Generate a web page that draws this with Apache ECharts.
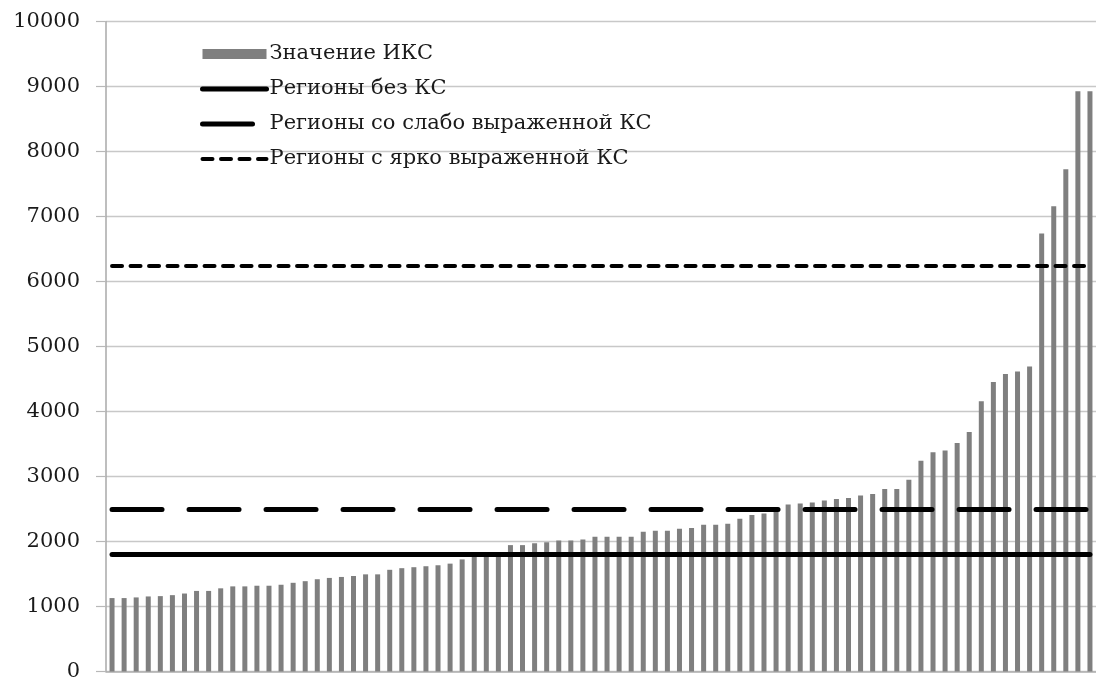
<!DOCTYPE html>
<html>
<head>
<meta charset="utf-8">
<script src="https://cdn.jsdelivr.net/npm/echarts@6/dist/echarts.min.js"></script>
<style>
  html, body { margin: 0; padding: 0; background: #fff; }
  #chart { width: 1096px; height: 682px; }
</style>
</head>
<body>
<div id="chart"></div>
<script>
// Sorted index values per region
const values = [
  1130, 1130, 1140, 1155, 1160, 1175, 1200, 1240, 1240, 1280,
  1310, 1310, 1320, 1320, 1335, 1365, 1390, 1420, 1440, 1455,
  1470, 1495, 1495, 1565, 1590, 1605, 1620, 1635, 1660, 1725,
  1765, 1780, 1790, 1945, 1945, 1975, 1990, 2015, 2015, 2030,
  2075, 2075, 2075, 2075, 2150, 2165, 2165, 2195, 2210, 2260,
  2260, 2275, 2350, 2410, 2430, 2520, 2570, 2585, 2600, 2630,
  2655, 2670, 2710, 2730, 2810, 2810, 2950, 3245, 3375, 3400,
  3515, 3685, 4160, 4455, 4580, 4615, 4695, 6740, 7160, 7730,
  8930, 8930
];
const categories = values.map((_, i) => String(i + 1));
const seriesNames = [
  'Значение ИКС',
  'Регионы без КС',
  'Регионы со слабо выраженной КС',
  'Регионы с ярко выраженной КС'
];
const thresholds = [1800, 2500, 6240];
const yTicks = { min: 0, max: 10000, interval: 1000 };

const FONT = 'DejaVu Serif';
const lineStyles = [
  { color: '#000', width: 5, type: 'solid', cap: 'round' },
  { color: '#000', width: 5, type: [50, 27], cap: 'round' },
  { color: '#000', width: 4, type: [10, 8.5], cap: 'round' }
];

function thresholdSeries(idx) {
  return {
    name: seriesNames[idx + 1],
    type: 'line',
    data: [],
    symbol: 'circle',
    symbolSize: 0,
    showSymbol: false,
    lineStyle: lineStyles[idx],
    itemStyle: { color: '#000' },
    markLine: {
      silent: true,
      symbol: ['none', 'none'],
      label: { show: false },
      lineStyle: lineStyles[idx],
      data: [[
        { coord: [categories[0], thresholds[idx]] },
        { coord: [categories[categories.length - 1], thresholds[idx]] }
      ]]
    }
  };
}

const hiddenSymbol = { opacity: 0, borderWidth: 0 };

const chart = echarts.init(document.getElementById('chart'), null, { renderer: 'canvas' });
chart.setOption({
  animation: false,
  backgroundColor: '#fff',
  grid: { left: 106, top: 21.7, width: 992, bottom: 5.7, containLabel: false },
  legend: {
    orient: 'vertical',
    left: 195,
    top: 37,
    itemWidth: 64,
    itemHeight: 10,
    itemGap: 11,
    selectedMode: false,
    lineStyle: { width: 'inherit', type: 'inherit', cap: 'inherit', color: 'inherit' },
    textStyle: { fontFamily: FONT, fontSize: 21, color: '#1a1a1a', lineHeight: 24, padding: [0, 0, 0, -2] },
    data: [
      { name: seriesNames[0], icon: 'rect' },
      { name: seriesNames[1], itemStyle: hiddenSymbol },
      { name: seriesNames[2], itemStyle: hiddenSymbol },
      { name: seriesNames[3], itemStyle: hiddenSymbol }
    ]
  },
  xAxis: {
    type: 'category',
    data: categories,
    boundaryGap: true,
    axisLine: { show: true, lineStyle: { color: '#b0b0b0', width: 1.5 } },
    axisTick: { show: false },
    axisLabel: { show: false },
    splitLine: { show: false }
  },
  yAxis: {
    type: 'value',
    min: yTicks.min,
    max: yTicks.max,
    interval: yTicks.interval,
    axisLine: { show: true, lineStyle: { color: '#a8a8a8', width: 1.5 } },
    axisTick: { show: true, length: 10, lineStyle: { color: '#b8b8b8', width: 1.2 } },
    axisLabel: { fontFamily: FONT, fontSize: 21, color: '#1a1a1a', margin: 26, formatter: (v) => String(v) },
    splitLine: { show: true, lineStyle: { color: '#c8c8c8', width: 1.3 } }
  },
  series: [
    {
      name: seriesNames[0],
      type: 'bar',
      data: values,
      barWidth: 5,
      itemStyle: { color: '#7f7f7f' }
    },
    thresholdSeries(0),
    thresholdSeries(1),
    thresholdSeries(2)
  ]
});
</script>
</body>
</html>
